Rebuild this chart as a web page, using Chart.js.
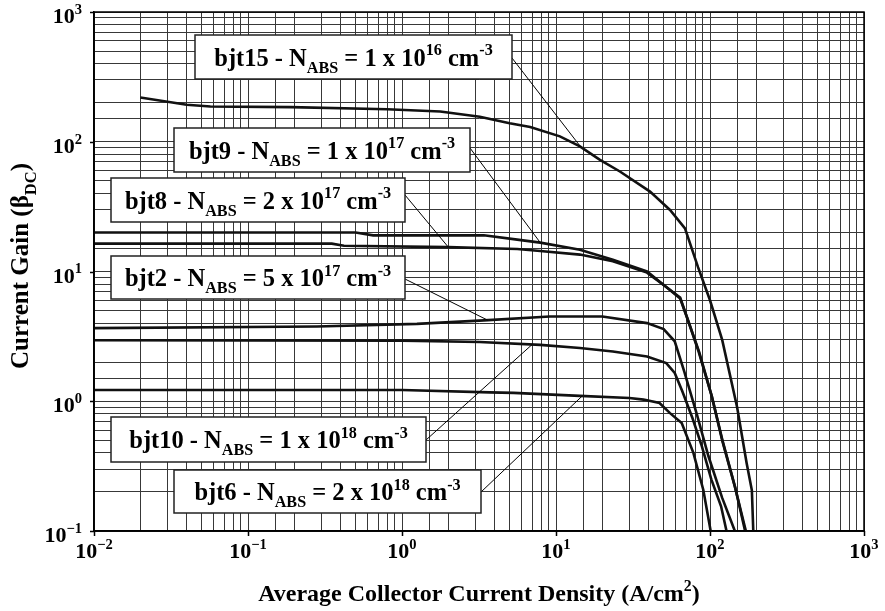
<!DOCTYPE html>
<html>
<head>
<meta charset="utf-8">
<script src="https://cdn.jsdelivr.net/npm/chart.js@4.4.1/dist/chart.umd.min.js"></script>
<style>
  html, body { margin: 0; padding: 0; background: #fff; }
  #wrap { position: relative; width: 885px; height: 611px; }
</style>
</head>
<body>
<div id="wrap"><canvas id="gainChart"></canvas></div>
<script>
// DC current gain vs. average collector current density, one trace per device

var bjt15X = [0.02, 0.04, 0.057, 0.19, 0.8, 1.77, 3.2, 5.0, 6.8, 10.6, 14.3, 19.3, 26, 40.8, 55, 68.8, 83.6, 100, 120, 150, 173, 187, 191];
var bjt15Y = [219, 193, 187, 185, 178, 171, 156, 139, 130, 110, 92, 72.5, 59, 41.3, 29.8, 21.5, 10.8, 6.0, 2.97, 0.90, 0.333, 0.206, 0.1];

var bjt9X = [0.01, 0.5, 0.65, 3.4, 5.6, 7.9, 14.3, 23.4, 39, 52, 64, 70.6, 84, 102.5, 120, 145, 171];
var bjt9Y = [20.0, 20.0, 19.0, 19.0, 17.6, 16.7, 14.7, 12.3, 10.0, 7.6, 6.3, 4.5, 2.45, 1.1, 0.5, 0.22, 0.1];

var bjt8X = [0.01, 0.35, 0.42, 2.0, 5.6, 7.9, 14.3, 23.4, 39, 52, 64, 71, 85, 103, 121, 146, 169];
var bjt8Y = [16.4, 16.4, 15.8, 15.4, 14.9, 14.4, 13.5, 12.0, 9.8, 7.6, 6.2, 4.4, 2.4, 1.08, 0.49, 0.215, 0.1];

var bjt2X = [0.01, 0.28, 1.25, 3.4, 9.1, 20, 39, 50, 59, 68, 82, 97.5, 120, 145];
var bjt2Y = [3.66, 3.77, 3.95, 4.2, 4.5, 4.5, 4.0, 3.6, 2.9, 1.7, 0.8, 0.38, 0.18, 0.1];

var bjt10X = [0.01, 1, 3.2, 7.9, 14.3, 23.4, 39, 52, 59, 66, 77, 88, 102, 118, 128];
var bjt10Y = [2.95, 2.93, 2.86, 2.72, 2.57, 2.42, 2.21, 1.97, 1.65, 1.2, 0.74, 0.46, 0.25, 0.155, 0.1];

var bjt6X = [0.01, 1, 3.7, 5.3, 14.3, 30, 37, 47, 55, 65.5, 78, 90.5, 101];
var bjt6Y = [1.22, 1.22, 1.17, 1.16, 1.1, 1.06, 1.03, 0.97, 0.81, 0.68, 0.40, 0.207, 0.1];

// device names and base doping (mantissa x 10^exp cm^-3)
var deviceNames = ['bjt15', 'bjt9', 'bjt8', 'bjt2', 'bjt10', 'bjt6'];
var dopingMant = ['1', '1', '2', '5', '1', '2'];
var dopingExp = ['16', '17', '17', '17', '18', '18'];

// decade exponents used for the tick labels
var xDecades = [-2, -1, 0, 1, 2, 3];
var yDecades = [-1, 0, 1, 2, 3];

// label boxes: [left, top, right, bottom] in px, leader start y, leader end x (data)
var calloutBox = [
    [195, 35, 512, 79],
    [174, 128, 470, 172],
    [111, 178, 405, 222],
    [111, 256, 405, 299],
    [111, 417, 426, 462],
    [174, 470, 481, 513]
];
var leaderStartY = [58, 148, 195, 279, 440, 492];
var leaderEndX = [14.5, 7.9, 2.0, 3.6, 7.0, 14.8];

var FONT = '"Liberation Serif", "Times New Roman", serif';
var seriesX = [bjt15X, bjt9X, bjt8X, bjt2X, bjt10X, bjt6X];
var seriesY = [bjt15Y, bjt9Y, bjt8Y, bjt2Y, bjt10Y, bjt6Y];

function toPoints(xs, ys) {
    return xs.map(function (x, i) { return { x: x, y: ys[i] }; });
}

// log-log interpolation along one trace
function valueAt(xs, ys, x) {
    for (var i = 0; i < xs.length - 1; i++) {
        if (x >= xs[i] && x <= xs[i + 1]) {
            var t = (Math.log10(x) - Math.log10(xs[i])) / (Math.log10(xs[i + 1]) - Math.log10(xs[i]));
            return Math.pow(10, Math.log10(ys[i]) + t * (Math.log10(ys[i + 1]) - Math.log10(ys[i])));
        }
    }
    return ys[ys.length - 1];
}

function partSize(p, size) { return p[1] ? size * 0.66 : size; }

function richWidth(ctx, parts, size) {
    var w = 0;
    parts.forEach(function (p) {
        ctx.font = 'bold ' + partSize(p, size) + 'px ' + FONT;
        w += ctx.measureText(p[0]).width;
    });
    return w;
}

// text with sub/superscript pieces: parts = [[text, ''|'sub'|'sup'], ...]
function drawRich(ctx, parts, x, y, size, align) {
    var w = richWidth(ctx, parts, size);
    var cx = align === 'center' ? x - w / 2 : (align === 'right' ? x - w : x);
    ctx.textAlign = 'left';
    ctx.textBaseline = 'alphabetic';
    ctx.fillStyle = '#000';
    parts.forEach(function (p) {
        var dy = p[1] === 'sup' ? -size * 0.42 : (p[1] === 'sub' ? size * 0.3 : 0);
        ctx.font = 'bold ' + partSize(p, size) + 'px ' + FONT;
        ctx.fillText(p[0], cx, y + dy);
        cx += ctx.measureText(p[0]).width;
    });
}

function expText(e) { return e < 0 ? '\u2212' + (-e) : String(e); }

var decorPlugin = {
    id: 'decor',
    afterDatasetsDraw: function (chart) {
        var ctx = chart.ctx, a = chart.chartArea;
        var xs = chart.scales.x, ys = chart.scales.y;
        ctx.save();

        // frame and outer ticks at each decade
        ctx.strokeStyle = '#000';
        ctx.lineWidth = 1.5;
        ctx.strokeRect(a.left, a.top, a.right - a.left, a.bottom - a.top);
        ctx.beginPath();
        xDecades.forEach(function (e) {
            var px = Math.round(xs.getPixelForValue(Math.pow(10, e))) + 0.5;
            ctx.moveTo(px, a.bottom); ctx.lineTo(px, a.bottom + 5);
        });
        yDecades.forEach(function (e) {
            var py = Math.round(ys.getPixelForValue(Math.pow(10, e))) + 0.5;
            ctx.moveTo(a.left, py); ctx.lineTo(a.left - 4, py);
        });
        ctx.stroke();

        // tick labels
        xDecades.forEach(function (e) {
            drawRich(ctx, [['10', ''], [expText(e), 'sup']], xs.getPixelForValue(Math.pow(10, e)), a.bottom + 27, 22, 'center');
        });
        yDecades.forEach(function (e) {
            drawRich(ctx, [['10', ''], [expText(e), 'sup']], a.left - 12, ys.getPixelForValue(Math.pow(10, e)) + 11, 22, 'right');
        });

        // axis titles
        drawRich(ctx, [['Average Collector Current Density (A/cm', ''], ['2', 'sup'], [')', '']],
            (a.left + a.right) / 2, 601, 24, 'center');
        ctx.save();
        ctx.translate(28, 266);
        ctx.rotate(-Math.PI / 2);
        drawRich(ctx, [['Current Gain (\u03b2', ''], ['DC', 'sub'], [')', '']], 0, 0, 25, 'center');
        ctx.restore();

        // leader lines and label boxes
        deviceNames.forEach(function (name, i) {
            var b = calloutBox[i];
            var ex = leaderEndX[i];
            var ey = valueAt(seriesX[i], seriesY[i], ex);
            ctx.strokeStyle = '#000';
            ctx.lineWidth = 1;
            ctx.beginPath();
            ctx.moveTo(b[2], leaderStartY[i]);
            ctx.lineTo(xs.getPixelForValue(ex), ys.getPixelForValue(ey));
            ctx.stroke();

            ctx.fillStyle = '#fff';
            ctx.fillRect(b[0], b[1], b[2] - b[0], b[3] - b[1]);
            ctx.strokeStyle = '#222';
            ctx.lineWidth = 1.5;
            ctx.strokeRect(b[0], b[1], b[2] - b[0], b[3] - b[1]);

            drawRich(ctx, [
                [name + ' - N', ''], ['ABS', 'sub'],
                [' = ' + dopingMant[i] + ' x 10', ''], [dopingExp[i], 'sup'],
                [' cm', ''], ['-3', 'sup']
            ], (b[0] + b[2]) / 2, (b[1] + b[3]) / 2 + 8.5, 24.5, 'center');
        });
        ctx.restore();
    }
};

var datasets = deviceNames.map(function (name, i) {
    return {
        label: name,
        data: toPoints(seriesX[i], seriesY[i]),
        showLine: true,
        borderColor: '#111',
        borderWidth: 2.6,
        pointRadius: 0,
        fill: false,
        tension: 0
    };
});

new Chart(document.getElementById('gainChart'), {
    type: 'scatter',
    data: { datasets: datasets },
    options: {
        responsive: true, maintainAspectRatio: false, animation: false,
        layout: { padding: { left: 94, top: 12, right: 21, bottom: 80 } },
        plugins: { legend: { display: false }, tooltip: { enabled: false } },
        scales: {
            x: {
                type: 'logarithmic', min: 0.01, max: 1000,
                ticks: { display: false },
                grid: { color: '#383838', lineWidth: 1, drawTicks: false },
                border: { display: true, color: '#000', width: 1.5 }
            },
            y: {
                type: 'logarithmic', min: 0.1, max: 1000,
                ticks: { display: false },
                grid: { color: '#383838', lineWidth: 1, drawTicks: false },
                border: { display: true, color: '#000', width: 1.5 }
            }
        }
    },
    plugins: [decorPlugin]
});
</script>
</body>
</html>
